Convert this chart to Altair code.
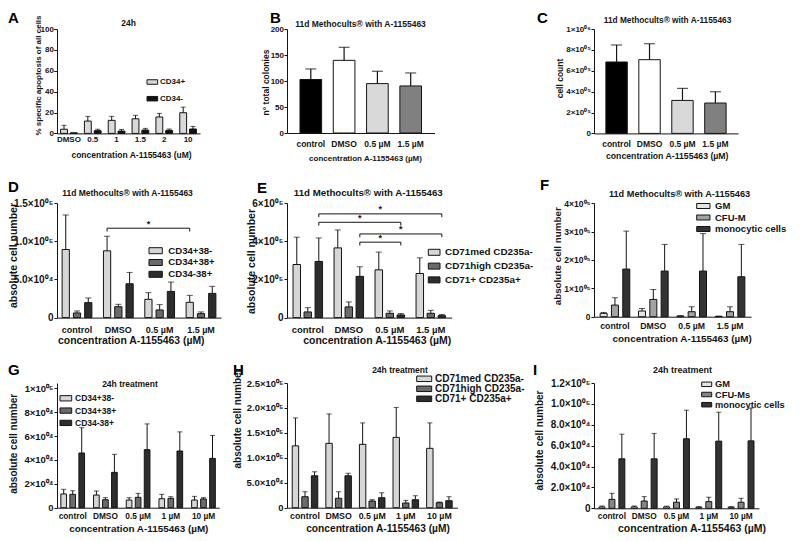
import math
import altair as alt
import pandas as pd

FONT = "Liberation Sans"
INK = "#141414"

# ---------------- values ----------------
A_groups = ["DMSO", "0.5", "1", "1.5", "2", "10"]
A_series = ["CD34+", "CD34-"]
A_cd34pos = [4.0, 11.8, 12.5, 14.0, 15.7, 19.8]
A_cd34pos_top = [7.7, 16.3, 16.3, 17.3, 19.2, 25.2]
A_cd34neg = [0.6, 2.6, 2.2, 3.2, 2.9, 4.2]
A_cd34neg_top = [0.6, 4.0, 3.8, 4.8, 4.2, 6.7]
A_ticks = [0, 20, 40, 60, 80, 100]
A_tick_labels = ["0", "20", "40", "60", "80", "100"]

M_groups = ["control", "DMSO", "0.5 µM", "1.5 µM"]
B_colonies = [102.9, 139.7, 95.0, 90.5]
B_colonies_top = [123.2, 164.8, 118.7, 115.5]
B_ticks = [0, 50, 100, 150, 200]
B_tick_labels = ["0", "50", "100", "150", "200"]

C_cells = [684000, 706000, 316000, 291000]
C_cells_top = [847000, 859000, 431000, 399000]
C_ticks = [0, 200000, 400000, 600000, 800000, 1000000]
C_tick_labels = ["0", "2×10⁰⁵", "4×10⁰⁵", "6×10⁰⁵", "8×10⁰⁵", "1×10⁰⁶"]

D_series = ["CD34+38-", "CD34+38+", "CD34-38+"]
D_p38n = [89100, 87400, 23900, 20000]
D_p38n_top = [134300, 106500, 32600, 29100]
D_p38p = [6100, 14300, 10000, 5200]
D_p38p_top = [8700, 17400, 17000, 7400]
D_n38p = [19600, 44300, 34300, 31700]
D_n38p_top = [25700, 59100, 46500, 40900]
D_ticks = [0, 50000, 100000, 150000]
D_tick_labels = ["0", "5.0×10⁰⁴", "1.0×10⁰⁵", "1.5×10⁰⁵"]
D_brackets = [("DMSO", "CD34+38-", "1.5 µM", "CD34+38-", 117000)]

E_series = ["CD71med CD235a-", "CD71high CD235a-", "CD71+ CD235a+"]
E_med = [278000, 365000, 250000, 231000]
E_med_top = [421000, 459000, 343000, 313000]
E_high = [29600, 56000, 22600, 22600]
E_high_top = [52000, 82000, 35000, 38000]
E_pos = [294000, 216000, 14000, 10000]
E_pos_top = [417000, 266000, 21000, 16000]
E_ticks = [0, 200000, 400000, 600000]
E_tick_labels = ["0", "2×10⁰⁵", "4×10⁰⁵", "6×10⁰⁵"]
E_brackets = [
    ("control", "CD71+ CD235a+", "1.5 µM", "CD71+ CD235a+", 543000),
    ("control", "CD71+ CD235a+", "0.5 µM", "CD71+ CD235a+", 499000),
    ("DMSO", "CD71+ CD235a+", "1.5 µM", "CD71+ CD235a+", 438000),
    ("DMSO", "CD71+ CD235a+", "0.5 µM", "CD71+ CD235a+", 395000),
]

F_series = ["GM", "CFU-M", "monocytic cells"]
F_gm = [11800, 20000, 2400, 1200]
F_gm_top = [15000, 29000, 3500, 1800]
F_cfum = [41000, 61000, 17600, 17600]
F_cfum_top = [67000, 96000, 35000, 35000]
F_mono = [168000, 161000, 161000, 141000]
F_mono_top = [302000, 255000, 293000, 255000]
F_ticks = [0, 100000, 200000, 300000, 400000]
F_tick_labels = ["0", "1×10⁰⁵", "2×10⁰⁵", "3×10⁰⁵", "4×10⁰⁵"]

T_groups = ["control", "DMSO", "0.5 µM", "1 µM", "10 µM"]
G_series = ["CD34+38-", "CD34+38+", "CD34-38+"]
G_p38n = [11500, 10600, 6400, 7500, 6400]
G_p38n_top = [15400, 14000, 8400, 11200, 9500]
G_p38p = [11200, 6700, 8700, 7800, 7300]
G_p38p_top = [14200, 8400, 12000, 9200, 8400]
G_n38p = [45800, 29600, 48600, 47500, 41300]
G_n38p_top = [67000, 44700, 70200, 63500, 60500]
G_ticks = [0, 20000, 40000, 60000, 80000, 100000]
G_tick_labels = ["0", "2×10⁰⁴", "4×10⁰⁴", "6×10⁰⁴", "8×10⁰⁴", "1×10⁰⁵"]

H_series = ["CD71med CD235a-", "CD71high CD235a-", "CD71+ CD235a+"]
H_med = [124000, 129000, 127000, 141000, 119000]
H_med_top = [180000, 188000, 170000, 201000, 170000]
H_high = [22000, 19000, 13400, 9400, 10000]
H_high_top = [32000, 32000, 16000, 14700, 11400]
H_pos = [64000, 64000, 20000, 16000, 14000]
H_pos_top = [72000, 69000, 30000, 24000, 22000]
H_ticks = [0, 50000, 100000, 150000, 200000, 250000]
H_tick_labels = ["0", "5.0×10⁰⁴", "1.0×10⁰⁵", "1.5×10⁰⁵", "2.0×10⁰⁵", "2.5×10⁰⁵"]

I_series = ["GM", "CFU-Ms", "monocytic cells"]
I_gm = [1300, 1300, 1300, 1000, 1000]
I_gm_top = [2200, 2200, 2000, 1600, 1600]
I_cfu = [8600, 7000, 5800, 6400, 5800]
I_cfu_top = [14400, 11200, 9000, 10600, 9600]
I_mono = [47400, 47400, 66600, 64300, 64600]
I_mono_top = [71000, 71700, 94000, 92000, 96000]
I_ticks = [0, 20000, 40000, 60000, 80000, 100000, 120000]
I_tick_labels = ["0", "2.0×10⁰⁴", "4.0×10⁰⁴", "6.0×10⁰⁴", "8.0×10⁰⁴", "1.0×10⁰⁵", "1.2×10⁰⁵"]

TITLE_M = "11d Methocults® with A-1155463"
TITLE_T = "24h treatment"
XT_UM = "concentration A-1155463 (µM)"
YT_ABS = "absolute cell number"

GRAYS3 = ["#d6d6d6", "#6b6b6b", "#2d2d2d"]

# ---------------- grid geometry (absolute page pixels, integers) ----------------
ORIGIN = 8
COL_LEFT = [57, 287, 594]      # plot-area left edge of the three panel columns
ROW_TOP = [29, 203, 383]       # plot-area top edge of the three panel rows

# ---------------- panel styling ----------------
P = {
    "A": dict(groups=A_groups, series=A_series, vals=[A_cd34pos, A_cd34neg], tops=[A_cd34pos_top, A_cd34neg_top],
              colors=["#d9d9d9", "#111111"], ymax=100, ticks=A_ticks, tick_labels=A_tick_labels,
              W=143, H=104.4, pI=0.3, pO=0.15, pIb=0.3, capw=5, ew=1,
              ytitle="% specific apoptosis of all cells", ytf=8, ytcx=38, ytcy=75, ylf=8, yts=3.3, ylp=0.3,
              xtitle="concentration A-1155463 (uM)", xtf=8.5, xtcx=131, xtby=157.1, xlf=8, xlp=2.2,
              title="24h", tf=8.5, tcx=128.5, tby=26, letter="A", lx=8, lby=23,
              leg=dict(f=8, w=10.7, h=4.5, sx=147, cy=82, row=14.7, gap=13)),
    "B": dict(groups=M_groups, series=None, vals=B_colonies, tops=B_colonies_top,
              colors=["#000000", "#ffffff", "#d9d9d9", "#808080"], ymax=200, ticks=B_ticks, tick_labels=B_tick_labels,
              W=147.5, H=104, pI=0.35, pO=0.39, capw=11, ew=1.2,
              ytitle="n° total colonies", ytf=8.5, ytcx=265.5, ytcy=82, ylf=8, yts=3, ylp=0.5,
              xtitle=XT_UM, xtf=8, xtcx=365, xtby=160.1, xlf=8.5, xlp=6.7,
              title=TITLE_M, tf=8.5, tcx=360.5, tby=27.3, letter="B", lx=270, lby=23),
    "C": dict(groups=M_groups, series=None, vals=C_cells, tops=C_cells_top,
              colors=["#000000", "#ffffff", "#d9d9d9", "#808080"], ymax=1000000, ticks=C_ticks, tick_labels=C_tick_labels,
              W=144, H=104.4, pI=0.35, pO=0.36, capw=11, ew=1.2,
              ytitle="cell count", ytf=8.5, ytcx=559.5, ytcy=78, ylf=8, yts=3, ylp=0.5,
              xtitle=XT_UM, xtf=8.7, xtcx=666.7, xtby=158, xlf=8.5, xlp=5.6,
              title=TITLE_M, tf=8.3, tcx=667.5, tby=22.7, letter="C", lx=537, lby=23),
    "D": dict(groups=M_groups, series=D_series, vals=[D_p38n, D_p38p, D_n38p], tops=[D_p38n_top, D_p38p_top, D_n38p_top],
              colors=GRAYS3, ymax=150000, ticks=D_ticks, tick_labels=D_tick_labels, brackets=D_brackets,
              W=164, H=114.6, pI=0.28, pO=0.124, pIb=0.357, capw=6, ew=1,
              ytitle=YT_ABS, ytf=10.5, ytcx=12.7, ytcy=255, ylf=10, yts=3, ylp=1,
              xtitle=XT_UM, xtf=10.4, xtcx=130.8, xtby=343.7, xlf=9, xlp=7.9,
              title=TITLE_M, tf=8.5, tcx=127.5, tby=195.7, letter="D", lx=8, lby=192,
              leg=dict(f=9.6, w=13.3, h=6, sx=149, cy=250.7, row=10.4, gap=19.3)),
    "E": dict(groups=M_groups, series=E_series, vals=[E_med, E_high, E_pos], tops=[E_med_top, E_high_top, E_pos_top],
              colors=GRAYS3, ymax=600000, ticks=E_ticks, tick_labels=E_tick_labels, brackets=E_brackets,
              W=164.6, H=114.6, pI=0.28, pO=0.147, pIb=0.32, capw=6, ew=1,
              ytitle=YT_ABS, ytf=10.5, ytcx=250.5, ytcy=261, ylf=10, yts=3, ylp=1,
              xtitle=XT_UM, xtf=10.5, xtcx=376.7, xtby=343.7, xlf=9.5, xlp=7.1,
              title=TITLE_M, tf=9.7, tcx=368.3, tby=195.7, letter="E", lx=257, lby=193,
              leg=dict(f=9.9, w=11.7, h=6, sx=428.3, cy=252.3, row=12.7, gap=16.7)),
    "F": dict(groups=M_groups, series=F_series, vals=[F_gm, F_cfum, F_mono], tops=[F_gm_top, F_cfum_top, F_mono_top],
              colors=["#e4e4e4", "#a3a3a3", "#333333"], ymax=401058, ticks=F_ticks, tick_labels=F_tick_labels,
              W=157, H=113.7, pI=0.227, pO=0.16, pIb=0.38, capw=6, ew=1,
              ytitle=YT_ABS, ytf=9.8, ytcx=556.7, ytcy=255.8, ylf=8.5, yts=3, ylp=1,
              xtitle=XT_UM, xtf=9.9, xtcx=681.7, xtby=341.9, xlf=8.7, xlp=5.1,
              title=TITLE_M, tf=9.2, tcx=679.5, tby=196.7, letter="F", lx=540, lby=190,
              leg=dict(f=9.5, w=13.3, h=5, sx=696.7, cy=206, row=10, gap=18.3)),
    "G": dict(groups=T_groups, series=G_series, vals=[G_p38n, G_p38p, G_n38p], tops=[G_p38n_top, G_p38p_top, G_n38p_top],
              colors=GRAYS3, ymax=104439, ticks=G_ticks, tick_labels=G_tick_labels,
              W=162.2, H=124.7, pI=0.275, pO=0.118, pIb=0.37, capw=5, ew=1,
              ytitle=YT_ABS, ytf=10, ytcx=12.6, ytcy=443.3, ylf=9.5, yts=3, ylp=1,
              xtitle=XT_UM, xtf=9.9, xtcx=138.3, xtby=531.5, xlf=8.3, xlp=4,
              title=TITLE_T, tf=8.5, tcx=130, tby=386.7, letter="G", lx=8, lby=375,
              leg=dict(f=8.5, w=11.7, h=5.3, sx=60, cy=398.3, row=10.8, gap=15)),
    "H": dict(groups=T_groups, series=H_series, vals=[H_med, H_high, H_pos], tops=[H_med_top, H_high_top, H_pos_top],
              colors=GRAYS3, ymax=250000, ticks=H_ticks, tick_labels=H_tick_labels,
              W=170.4, H=124.7, pI=0.24, pO=0.156, pIb=0.33, capw=5, ew=1,
              ytitle=YT_ABS, ytf=10, ytcx=237, ytcy=418, ylf=9.5, yts=3, ylp=1,
              xtitle=XT_UM, xtf=10.2, xtcx=377.5, xtby=531.5, xlf=8.8, xlp=4,
              title=TITLE_T, tf=8.5, tcx=400, tby=373, letter="H", lx=233, lby=375,
              leg=dict(f=10, w=15, h=5.5, sx=416.7, cy=378.8, row=10, gap=18.3)),
    "I": dict(groups=T_groups, series=I_series, vals=[I_gm, I_cfu, I_mono], tops=[I_gm_top, I_cfu_top, I_mono_top],
              colors=["#e4e4e4", "#858585", "#333333"], ymax=120000, ticks=I_ticks, tick_labels=I_tick_labels,
              W=165, H=125.3, pI=0.2, pO=0.155, pIb=0.4, capw=5, ew=1,
              ytitle=YT_ABS, ytf=10, ytcx=539.3, ytcy=440, ylf=10, yts=3, ylp=1,
              xtitle=XT_UM, xtf=10.5, xtcx=691.5, xtby=531.5, xlf=8.3, xlp=3.5,
              title=TITLE_T, tf=9, tcx=682.5, tby=373, letter="I", lx=533, lby=375,
              leg=dict(f=9.3, w=10, h=4.5, sx=701.7, cy=384.3, row=9.5, gap=13.3)),
}

grid = [["A", "B", "C"], ["D", "E", "F"], ["G", "H", "I"]]
for r in range(3):
    for k in range(3):
        P[grid[r][k]]["left"] = COL_LEFT[k]
        P[grid[r][k]]["top"] = ROW_TOP[r]


def label_expr(values, labels):
    parts = [f"datum.value == {v} ? '{l}'" for v, l in zip(values, labels)]
    return " : ".join(parts) + " : ''"


def bar_center(p, g, s):
    n = len(p["groups"])
    step = p["W"] / (n - p["pI"] + 2 * p["pO"])
    bw = step * (1 - p["pI"])
    x0 = step * p["pO"] + p["groups"].index(g) * step
    m = len(p["series"])
    sstep = bw / (m - p["pIb"])
    sbw = sstep * (1 - p["pIb"])
    return x0 + p["series"].index(s) * sstep + sbw / 2


def y_axis(p):
    tx = (p["ytcx"] + 0.36 * p["ytf"]) - p["left"]
    return alt.Axis(values=p["ticks"], labelExpr=label_expr(p["ticks"], p["tick_labels"]),
                    title=p["ytitle"], titleX=tx, titleY=p["ytcy"] - p["top"], titleAngle=270,
                    titleAlign="center", titleBaseline="alphabetic", titleFontSize=p["ytf"], titleFont=FONT,
                    titleFontWeight="bold", titleColor=INK, labelFontSize=p["ylf"], labelFont=FONT,
                    labelFontWeight="bold", labelColor=INK, labelPadding=p["ylp"], labelOverlap=False,
                    labelBound=False, tickSize=p["yts"], tickColor=INK, tickWidth=1, domainColor=INK,
                    domainWidth=1, grid=False)


def x_axis(p):
    return alt.Axis(title=p["xtitle"], titleX=p["xtcx"] - p["left"], titleY=p["xtby"] - (p["top"] + p["H"]),
                    titleAlign="center", titleBaseline="alphabetic", titleFontSize=p["xtf"], titleFont=FONT,
                    titleFontWeight="bold", titleColor=INK, labelFontSize=p["xlf"], labelFont=FONT,
                    labelFontWeight="bold", labelColor=INK, labelPadding=p["xlp"], labelAngle=0,
                    labelOverlap=False, ticks=False, domainColor=INK, domainWidth=1, grid=False)


def legend(p):
    L = p["leg"]
    f, w, h = L["f"], L["w"], L["h"]
    a = w / h
    sz = max(math.ceil(h + 1), f)
    return alt.Legend(orient="none", legendX=(L["sx"] - p["left"]) - (sz / 2 - w / 2),
                      legendY=(L["cy"] - p["top"]) - sz / 2, title=None,
                      symbolType=f"M{-a:.3f},-1H{a:.3f}V1H{-a:.3f}Z", symbolSize=h * h,
                      symbolStrokeColor=INK, symbolStrokeWidth=1, symbolOffset=0,
                      labelFontSize=f, labelFont=FONT, labelFontWeight="bold", labelColor=INK,
                      rowPadding=L["row"] - sz, labelOffset=L["gap"] - sz / 2 - w / 2, padding=0, labelLimit=300)


def panel(p):
    groups, series = p["groups"], p["series"]
    rows = []
    if series:
        for s, vals, tops in zip(series, p["vals"], p["tops"]):
            for g, v, t in zip(groups, vals, tops):
                rows.append(dict(group=g, series=s, value=v, upper=t))
    else:
        for g, v, t in zip(groups, p["vals"], p["tops"]):
            rows.append(dict(group=g, series=g, value=v, upper=t))
    df = pd.DataFrame(rows)
    err = df[df["upper"] > df["value"] * 1.0001]

    xs = alt.Scale(domain=groups, paddingInner=p["pI"], paddingOuter=p["pO"])
    ys = alt.Scale(domain=[0, p["ymax"]], nice=False, zero=True)
    xa, ya = x_axis(p), y_axis(p)
    X = alt.X("group:N", scale=xs, axis=xa)
    Y = alt.Y("value:Q", scale=ys, axis=ya)
    off = {}
    if series:
        off = dict(xOffset=alt.XOffset("series:N", scale=alt.Scale(domain=series, paddingInner=p["pIb"], paddingOuter=0)))
        fill = alt.Fill("series:N", scale=alt.Scale(domain=series, range=p["colors"]), legend=legend(p))
    else:
        fill = alt.Fill("group:N", scale=alt.Scale(domain=groups, range=p["colors"]), legend=None)

    bars = alt.Chart(df).mark_bar(stroke=INK, strokeWidth=1).encode(x=X, y=Y, fill=fill, **off)
    rule = alt.Chart(err).mark_rule(color=INK, strokeWidth=p["ew"]).encode(x=X, y=Y, y2="upper:Q", **off)
    cap = alt.Chart(err).mark_tick(color=INK, thickness=p["ew"], size=p["capw"], orient="horizontal").encode(
        x=X, y=alt.Y("upper:Q", scale=ys, axis=ya), **off)
    layers = [bars, rule, cap]

    for bid, (g1, s1, g2, s2, yt) in enumerate(p.get("brackets", [])):
        drop = 3.3 / p["H"] * p["ymax"]
        bdf = pd.DataFrame([
            dict(group=g1, series=s1, value=yt - drop, idx=0),
            dict(group=g1, series=s1, value=yt, idx=1),
            dict(group=g2, series=s2, value=yt, idx=2),
            dict(group=g2, series=s2, value=yt - drop, idx=3),
        ])
        layers.append(alt.Chart(bdf).mark_line(color=INK, strokeWidth=1).encode(
            x=X, y=Y, order="idx:Q", **off))
        mid = (bar_center(p, g2, s2) - bar_center(p, g1, s1)) / 2
        layers.append(alt.Chart(bdf.iloc[[1]]).mark_text(
            text="*", dx=mid, dy=-1.5, fontSize=9, font=FONT, fontWeight="bold", color=INK,
            align="center", baseline="alphabetic").encode(x=X, y=Y, **off))

    return alt.layer(*layers).properties(width=p["W"], height=p["H"])


SPACER_DF = pd.DataFrame({"v": [0]})


def spacer(w, h, title=None):
    ch = alt.Chart(SPACER_DF).mark_point(filled=True, size=0, opacity=0, strokeWidth=0).encode(
        x=alt.value(0), y=alt.value(0)).properties(width=max(w, 1), height=max(h, 1))
    if title is not None:
        ch = ch.properties(title=title)
    return ch


def letter_title(p, col_start):
    # placed below a 1px spacer sitting at the top of the panel row
    return alt.TitleParams(text=p["letter"], orient="bottom", anchor="start", frame="group",
                           dx=p["lx"] - col_start, offset=p["lby"] - p["top"] - 1, baseline="alphabetic",
                           fontSize=15, font=FONT, fontWeight="bold", color="black")


def panel_title(p):
    return alt.TitleParams(text=p["title"], orient="bottom", anchor="middle", frame="group",
                           dx=p["tcx"] - (p["left"] + p["W"] / 2), offset=p["tby"] - p["top"],
                           baseline="alphabetic", fontSize=p["tf"], font=FONT, fontWeight="bold", color=INK)


# integer column widths / row heights of the 6x6 grid (spacer, panel, spacer, panel, spacer, panel)
pw = [math.ceil(max(P[grid[r][k]]["W"] for r in range(3))) for k in range(3)]
ph = [math.ceil(max(P[grid[r][k]]["H"] for k in range(3))) for r in range(3)]
col_w, col_start, x = [], [], ORIGIN
for k in range(3):
    col_w += [COL_LEFT[k] - x, pw[k]]
    col_start += [x, COL_LEFT[k]]
    x = COL_LEFT[k] + pw[k]
row_h, y = [], ORIGIN
for r in range(3):
    row_h += [ROW_TOP[r] - y, ph[r]]
    y = ROW_TOP[r] + ph[r]

cells = []
for r in range(6):
    for c in range(6):
        pr, pc = r // 2, c // 2
        name = grid[pr][pc]
        if r % 2 == 1 and c % 2 == 1:
            cells.append(panel(P[name]))
        elif r % 2 == 0 and c % 2 == 1:
            cells.append(spacer(P[name]["W"], row_h[r], panel_title(P[name])))
        elif r % 2 == 1 and c % 2 == 0:
            cells.append(spacer(col_w[c], 1, letter_title(P[name], col_start[c])))
        else:
            cells.append(spacer(col_w[c], row_h[r]))

chart = alt.concat(*cells, columns=6, spacing=0, align="each", bounds="flush", padding=0).resolve_scale(
    x="independent", y="independent", xOffset="independent", fill="independent"
).resolve_axis(x="independent", y="independent").resolve_legend(fill="independent").configure(
    font=FONT, background="white").configure_view(strokeWidth=0)

chart.save("out.html", embed_options={"renderer": "svg", "actions": False})
